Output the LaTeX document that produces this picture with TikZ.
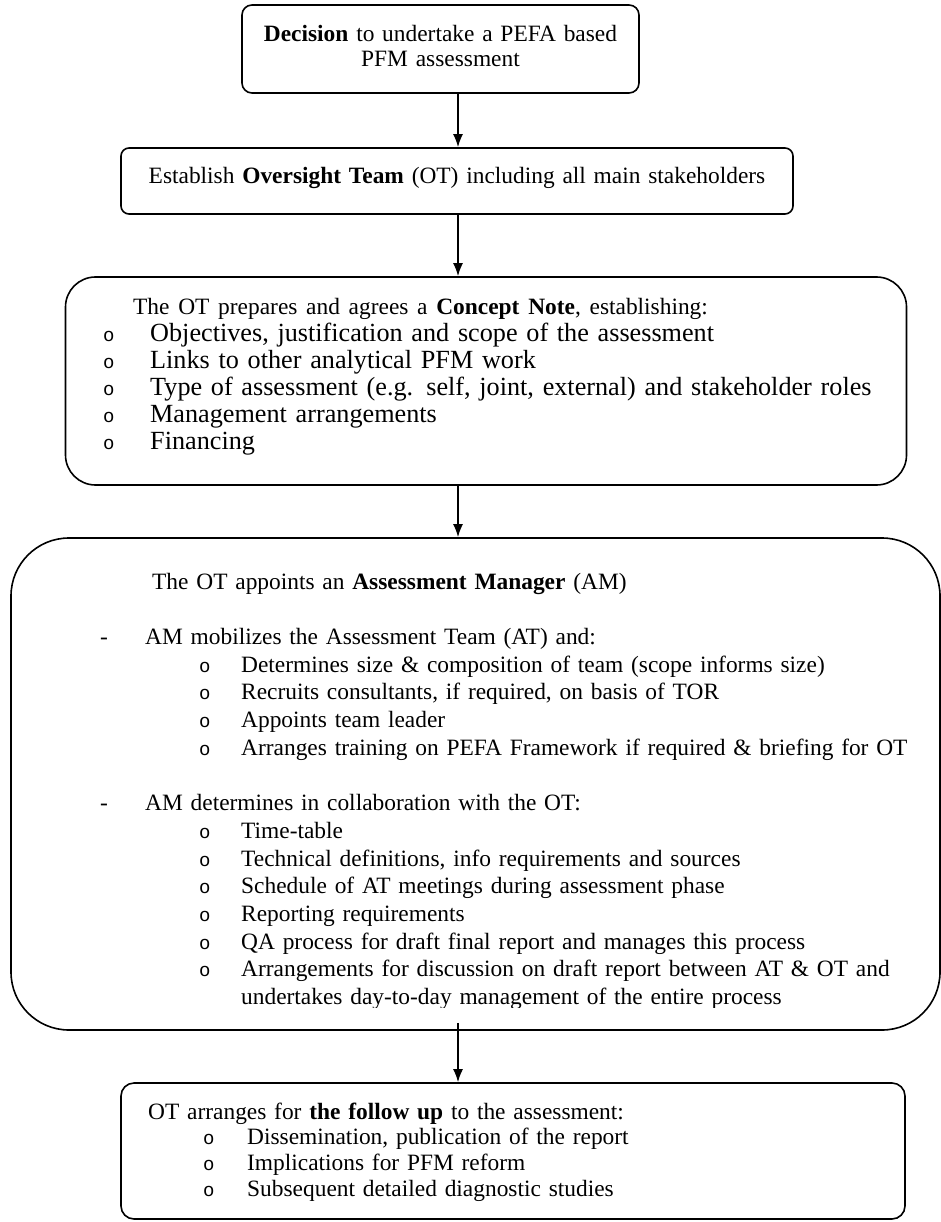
\documentclass[tikz,border=0pt]{standalone}
\usepackage{fontspec}
\setmainfont{Liberation Serif}
\newfontfamily\bulletfont{Liberation Mono}
\usetikzlibrary{arrows.meta}
\newcommand{\bul}{{\bulletfont\fontsize{19}{19}\selectfont o}}

\tikzset{
  box/.style={draw, line width=1.6pt, rectangle, inner sep=0pt},
  txt/.style={anchor=base west, inner sep=0pt, align=left},
  arr/.style={-{Latex[length=13pt,width=10pt]}, line width=1.6pt},
}

\begin{document}
\begin{tikzpicture}[x=1pt,y=-1pt]
  \useasboundingbox (0,0) rectangle (941,1222);
  \coordinate (ax) at (458,0);

  % boxes
  \node[box, rounded corners=10pt, minimum width=397pt, minimum height=88pt] (decision) at (440.5,49) {};
  \node[box, rounded corners=8pt, minimum width=672pt, minimum height=66pt] (oversight) at (457,181) {};
  \node[box, rounded corners=30pt, minimum width=841pt, minimum height=208pt] (concept) at (486,381) {};
  \node[box, rounded corners=58pt, minimum width=929pt, minimum height=492pt] (manager) at (475.5,784) {};
  \node[box, rounded corners=13pt, minimum width=784pt, minimum height=136pt] (followup) at (513,1151) {};

  % texts
  \node[txt, anchor=base, align=center, text width=397pt, font=\fontsize{23.4}{25}\selectfont] (decisiontxt) at (440.5,42)
    {\textbf{Decision} to undertake a PEFA based\\PFM assessment};
  \node[txt, anchor=base, align=center, text width=672pt, font=\fontsize{23.4}{25}\selectfont] (oversighttxt) at (457,184)
    {Establish \textbf{Oversight Team} (OT) including all main stakeholders};
  \node[txt, text width=800pt, font=\fontsize{26.2}{27}\selectfont] (concepttxt) at (103,314)
    {\hspace*{30pt}{\fontsize{23.4}{26}\selectfont The OT prepares and agrees a \textbf{Concept Note}, establishing:}\\
     \makebox[47pt][l]{\bul}Objectives, justification and scope of the assessment\\
     \makebox[47pt][l]{\bul}Links to other analytical PFM work\\
     \makebox[47pt][l]{\bul}Type of assessment (e.g. self, joint, external) and stakeholder roles\\
     \makebox[47pt][l]{\bul}Management arrangements\\
     \makebox[47pt][l]{\bul}Financing};
  \begin{scope}
    \clip (0,530) rectangle (941,1007);
    \node[txt, text width=835pt, font=\fontsize{23.4}{27.7}\selectfont] (managertxt) at (100,589)
      {\hspace*{52pt}The OT appoints an \textbf{Assessment Manager} (AM)\\[27.7pt]
       \makebox[45pt][l]{-}AM mobilizes the Assessment Team (AT) and:\\
       \hspace*{99pt}\makebox[42pt][l]{\bul}Determines size \& composition of team (scope informs size)\\
       \hspace*{99pt}\makebox[42pt][l]{\bul}Recruits consultants, if required, on basis of TOR\\
       \hspace*{99pt}\makebox[42pt][l]{\bul}Appoints team leader\\
       \hspace*{99pt}\makebox[42pt][l]{\bul}Arranges training on PEFA Framework if required \& briefing for OT\\[27.7pt]
       \makebox[45pt][l]{-}AM determines in collaboration with the OT:\\
       \hspace*{99pt}\makebox[42pt][l]{\bul}Time-table\\
       \hspace*{99pt}\makebox[42pt][l]{\bul}Technical definitions, info requirements and sources\\
       \hspace*{99pt}\makebox[42pt][l]{\bul}Schedule of AT meetings during assessment phase\\
       \hspace*{99pt}\makebox[42pt][l]{\bul}Reporting requirements\\
       \hspace*{99pt}\makebox[42pt][l]{\bul}QA process for draft final report and manages this process\\
       \hspace*{99pt}\makebox[42pt][l]{\bul}Arrangements for discussion on draft report between AT \& OT and\\
       \hspace*{141pt}undertakes day-to-day management of the entire process};
  \end{scope}
  \node[txt, text width=760pt, font=\fontsize{23.4}{25.7}\selectfont] (followuptxt) at (148,1119)
    {OT arranges for \textbf{the follow up} to the assessment:\\
     \hspace*{55pt}\makebox[44pt][l]{\bul}Dissemination, publication of the report\\
     \hspace*{55pt}\makebox[44pt][l]{\bul}Implications for PFM reform\\
     \hspace*{55pt}\makebox[44pt][l]{\bul}Subsequent detailed diagnostic studies};

  % arrows
  \draw[arr] (decision.south -| ax) -- (oversight.north -| ax);
  \draw[arr] (oversight.south -| ax) -- (concept.north -| ax);
  \draw[arr] (concept.south -| ax) -- (manager.north -| ax);
  \draw[arr] ([yshift=8pt]manager.south -| ax) -- (followup.north -| ax);
\end{tikzpicture}
\end{document}
